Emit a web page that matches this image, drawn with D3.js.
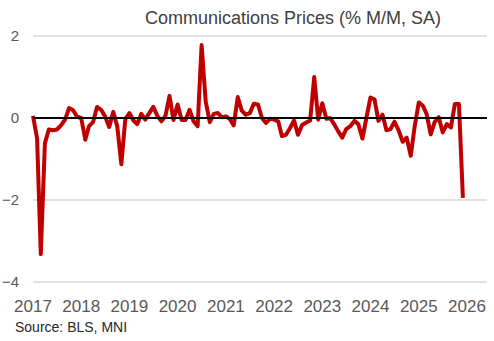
<!DOCTYPE html>
<html>
<head>
<meta charset="utf-8">
<script src="https://cdn.jsdelivr.net/npm/d3@7"></script>
<style>
  html, body { margin: 0; padding: 0; background: #fff; }
  svg { display: block; font-family: "Liberation Sans", Arial, sans-serif; }
</style>
</head>
<body>
<svg id="chart" width="494" height="341"></svg>
<script>
const title = "Communications Prices (% M/M, SA)";
const source = "Source: BLS, MNI";
const startMonth = "2017-01";
const values2017 = [0.05, -0.5, -3.32, -0.62, -0.28, -0.3, -0.28, -0.18, -0.04, 0.24, 0.19, 0.03];
const values2018 = [0.0, -0.53, -0.2, -0.1, 0.27, 0.2, 0.04, -0.22, 0.15, -0.2, -1.13, -0.03];
const values2019 = [0.12, -0.06, -0.15, 0.1, -0.04, 0.12, 0.27, 0.05, -0.08, 0.05, 0.54, -0.05];
const values2020 = [0.33, -0.05, -0.05, 0.2, -0.08, -0.2, 1.78, 0.4, -0.1, 0.1, 0.12, 0.02];
const values2021 = [0.04, -0.03, -0.18, 0.51, 0.18, 0.08, 0.12, 0.35, 0.33, 0.0, -0.12, -0.02];
const values2022 = [-0.04, -0.08, -0.44, -0.41, -0.25, -0.06, -0.41, -0.17, -0.11, -0.06, 1.0, -0.04];
const values2023 = [0.36, -0.02, 0.0, -0.15, -0.32, -0.48, -0.27, -0.2, -0.07, -0.15, -0.5, 0.0];
const values2024 = [0.5, 0.45, -0.07, 0.08, -0.3, -0.27, -0.09, -0.3, -0.58, -0.48, -0.92, -0.2];
const values2025 = [0.38, 0.3, 0.1, -0.4, -0.1, 0.02, -0.35, -0.15, -0.23, 0.34, 0.34, -1.95];
const yTicks = [2, 0, -2, -4];
const xTickYears = [2017, 2018, 2019, 2020, 2021, 2022, 2023, 2024, 2025, 2026];

const values = [].concat(values2017, values2018, values2019, values2020, values2021,
                         values2022, values2023, values2024, values2025);
const parse = d3.timeParse("%Y-%m");
const start = parse(startMonth);
const data = values.map((v, i) => ({ date: d3.timeMonth.offset(start, i), value: v }));

const svg = d3.select("#chart");
const plotLeft = 33, plotRight = 487;

const x = d3.scaleTime()
  .domain([new Date(2017, 0, 1), new Date(2026, 0, 1)])
  .range([33, 467]);
const y = d3.scaleLinear().domain([-4, 2]).range([282, 36]);

// gridlines
svg.append("g").selectAll("line")
  .data(yTicks.filter(t => t !== 0))
  .join("line")
  .attr("x1", plotLeft).attr("x2", plotRight)
  .attr("y1", d => y(d)).attr("y2", d => y(d))
  .attr("stroke", "#d9d9d9").attr("stroke-width", 1.5);

// y tick labels
svg.append("g").selectAll("text")
  .data(yTicks)
  .join("text")
  .attr("x", 19).attr("y", d => y(d))
  .attr("dy", "0.35em")
  .attr("text-anchor", "end")
  .attr("fill", "#595959")
  .attr("font-size", 15)
  .text(d => d3.format("d")(d));

// x tick labels
svg.append("g").selectAll("text")
  .data(xTickYears)
  .join("text")
  .attr("x", d => x(new Date(d, 0, 1)))
  .attr("y", 312)
  .attr("text-anchor", "middle")
  .attr("fill", "#595959")
  .attr("font-size", 17)
  .text(d => d);

// line
const line = d3.line().x(d => x(d.date)).y(d => y(d.value));
svg.append("path")
  .datum(data)
  .attr("fill", "none")
  .attr("stroke", "#c00000")
  .attr("stroke-width", 4)
  .attr("stroke-linejoin", "round")
  .attr("d", line);

// zero line
svg.append("line")
  .attr("x1", plotLeft).attr("x2", plotRight)
  .attr("y1", y(0)).attr("y2", y(0))
  .attr("stroke", "#000").attr("stroke-width", 2);

// title
svg.append("text")
  .attr("x", 293).attr("y", 24)
  .attr("text-anchor", "middle")
  .attr("fill", "#404040")
  .attr("font-size", 18)
  .text(title);

// source
svg.append("text")
  .attr("x", 15).attr("y", 332)
  .attr("fill", "#262626")
  .attr("font-size", 14)
  .text(source);
</script>
</body>
</html>
